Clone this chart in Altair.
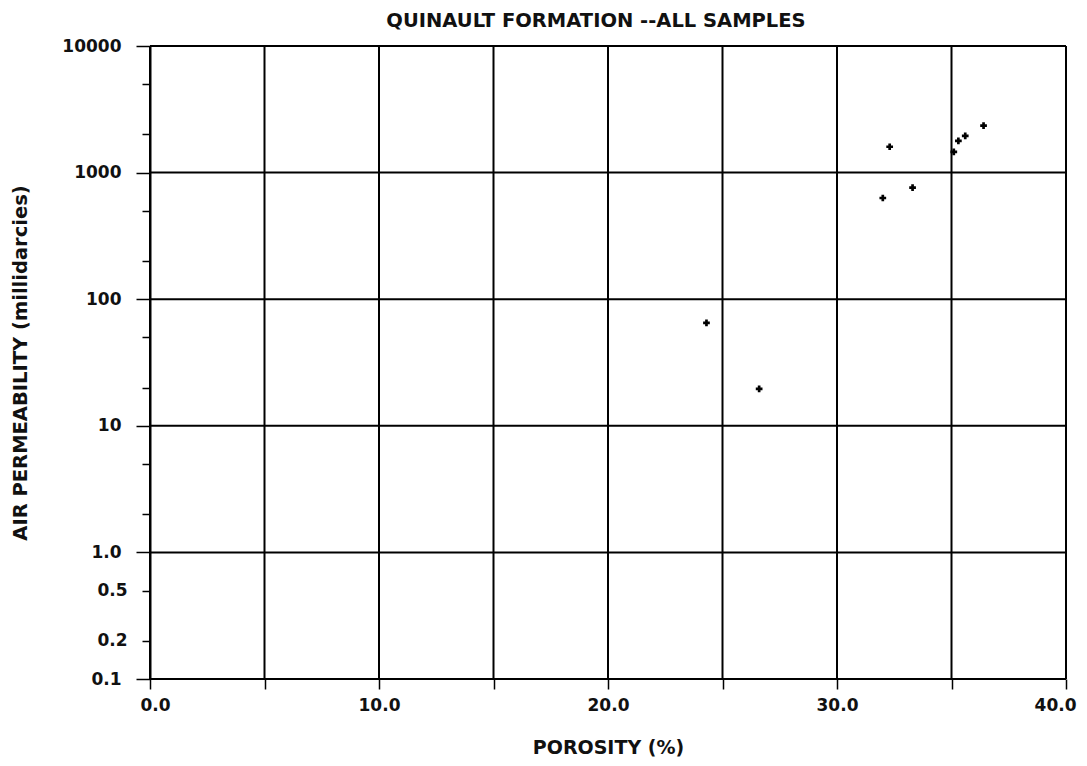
import altair as alt
import pandas as pd

# Data
porosity = [32.3, 36.4, 35.6, 35.3, 35.1, 33.3, 32.0, 24.3, 26.6]
permeability = [1600, 2350, 1950, 1780, 1460, 760, 630, 65, 19.6]

x_grid = [0, 5, 10, 15, 20, 25, 30, 35, 40]
x_label_values = [0, 10, 20, 30, 40]
y_grid = [0.1, 1, 10, 100, 1000, 10000]
y_ticks = [0.1, 0.2, 0.5, 1, 2, 5, 10, 20, 50, 100, 200, 500, 1000, 2000, 5000, 10000]
y_label_values = [0.1, 0.2, 0.5, 1, 10, 100, 1000, 10000]
y_label_texts = ["0.1", "0.2", "0.5", "1.0", "10", "100", "1000", "10000"]

pts = pd.DataFrame({"porosity": porosity, "perm": permeability})
vgrid = pd.DataFrame({"x": x_grid})
hgrid = pd.DataFrame({"y": y_grid})

y_label_expr = ""
for v, t in zip(y_label_values, y_label_texts):
    y_label_expr += f"datum.value == {v} ? '{t}' : "
y_label_expr += "''"
major_test = "indexof([" + ",".join(str(v) for v in y_grid) + "], datum.value) >= 0"
x_label_expr = ("indexof([" + ",".join(str(v) for v in x_label_values)
                + "], datum.value) >= 0 ? format(datum.value, '.1f') : ''")

FONT = "DejaVu Sans"

xscale = alt.Scale(domain=[0, 40], nice=False, zero=False)
yscale = alt.Scale(type="log", domain=[0.1, 10000], nice=False)

xaxis = alt.Axis(
    values=x_grid, labelExpr=x_label_expr, title="POROSITY (%)", grid=False,
    domain=False, tickSize=10, tickWidth=1.5, tickColor="black",
    labelFont=FONT, labelFontSize=17, labelFontWeight="bold", labelColor="#111",
    labelPadding=8, labelFlush=True, labelFlushOffset=10, labelOverlap=False,
    titleFont=FONT, titleFontSize=19, titleFontWeight="bold", titleColor="#111",
    titlePadding=25,
)
yaxis = alt.Axis(
    values=y_ticks, labelExpr=y_label_expr, title="AIR PERMEABILITY  (millidarcies)",
    grid=False, domain=True, domainColor="black", domainWidth=2,
    tickColor="black", tickWidth=1.5,
    tickSize={"condition": {"test": major_test, "value": 14}, "value": 8},
    labelFont=FONT, labelFontSize=17, labelFontWeight="bold", labelColor="#111",
    labelPadding=15,
    titleFont=FONT, titleFontSize=19.5, titleFontWeight="bold", titleColor="#111",
    titlePadding=31, labelFlush=False, labelOverlap=False,
)

vrules = alt.Chart(vgrid).mark_rule(color="black", strokeWidth=2).encode(
    x=alt.X("x:Q", scale=xscale, axis=xaxis)
)
hrules = alt.Chart(hgrid).mark_rule(color="black", strokeWidth=2).encode(
    y=alt.Y("y:Q", scale=yscale, axis=yaxis)
)
points = alt.Chart(pts).mark_point(shape="cross", filled=True, size=45, color="black", opacity=1).encode(
    x=alt.X("porosity:Q", scale=xscale, axis=xaxis),
    y=alt.Y("perm:Q", scale=yscale, axis=yaxis),
)

chart = alt.layer(vrules, hrules, points).properties(
    width=916,
    height=633,
    autosize="none",
    padding={"left": 142, "top": 38, "right": 13, "bottom": 79},
    title=alt.TitleParams(
        "QUINAULT FORMATION --ALL SAMPLES", font=FONT, fontSize=19.5,
        fontWeight="bold", color="#111", offset=6, anchor="middle", dx=-12,
    ),
).configure_view(stroke=None).configure(background="white")

chart.save("out.html", embed_options={"renderer": "svg", "actions": False})
